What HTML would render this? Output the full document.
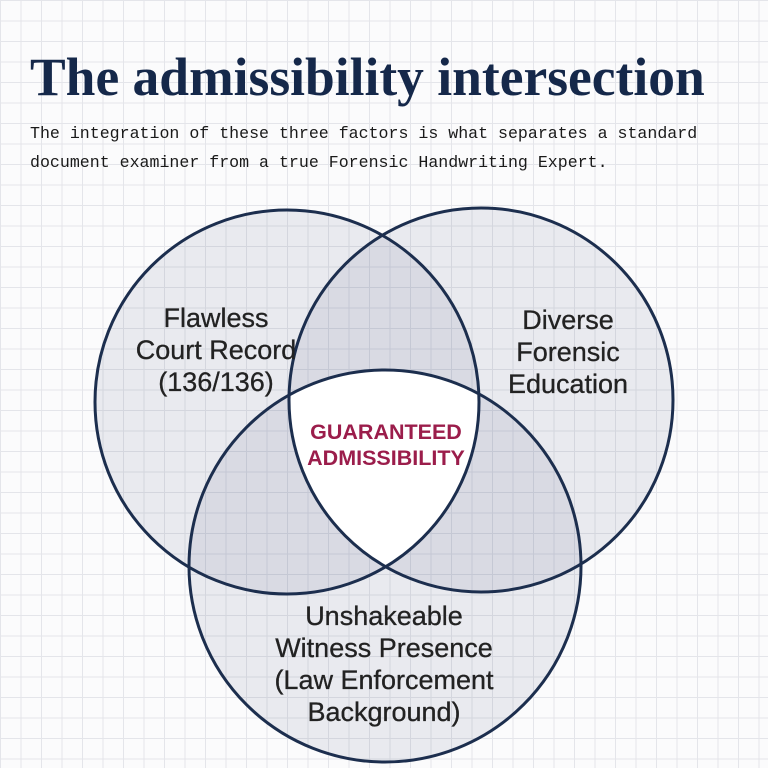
<!DOCTYPE html>
<html><head><meta charset="utf-8"><style>
html,body{margin:0;padding:0}
body{width:768px;height:768px;overflow:hidden;position:relative;background-color:#fbfbfc;
background-image:linear-gradient(#e4e5ea 1px,transparent 1px),linear-gradient(90deg,#e4e5ea 1px,transparent 1px);
background-size:20.5px 20.5px;background-position:0 0;font-family:"Liberation Sans",sans-serif}
h1{position:absolute;left:30px;top:46px;margin:0;font-family:"Liberation Serif",serif;font-weight:bold;font-size:53.5px;color:#15284a;letter-spacing:0px;white-space:nowrap}
p{position:absolute;left:30px;top:119px;margin:0;font-family:"Liberation Mono",monospace;font-size:16.6px;line-height:29px;color:#1a1a1a;white-space:nowrap}
svg{position:absolute;left:0;top:0}
</style></head><body>
<h1>The admissibility intersection</h1>
<p>The integration of these three factors is what separates a standard<br>document examiner from a true Forensic Handwriting Expert.</p>
<svg width="768" height="768" viewBox="0 0 768 768">
<defs>
<clipPath id="a"><circle cx="287" cy="402" r="192"/></clipPath>
<clipPath id="b"><circle cx="481" cy="400" r="192"/></clipPath>
</defs>
<g fill="rgba(60,70,110,0.09)">
<circle cx="287" cy="402" r="192"/>
<circle cx="481" cy="400" r="192"/>
<circle cx="385" cy="566" r="196"/>
</g>
<g clip-path="url(#a)"><g clip-path="url(#b)"><circle cx="385" cy="566" r="196" fill="#fff"/></g></g>
<g fill="none" stroke="#1c2e4e" stroke-width="3">
<circle cx="287" cy="402" r="192"/>
<circle cx="481" cy="400" r="192"/>
<circle cx="385" cy="566" r="196"/>
</g>
<g font-family="Liberation Sans, sans-serif" font-size="27" fill="#222" text-anchor="middle" stroke="#222" stroke-width="0.3">
<text x="216" y="327">Flawless</text>
<text x="216" y="359">Court Record</text>
<text x="216" y="391">(136/136)</text>
<text x="568" y="329">Diverse</text>
<text x="568" y="361">Forensic</text>
<text x="568" y="393">Education</text>
<text x="384" y="625">Unshakeable</text>
<text x="384" y="657">Witness Presence</text>
<text x="384" y="689">(Law Enforcement</text>
<text x="384" y="721">Background)</text>
</g>
<g font-family="Liberation Sans, sans-serif" font-size="21.5" font-weight="bold" fill="#9b1d4b" text-anchor="middle">
<text x="386" y="439">GUARANTEED</text>
<text x="386" y="465">ADMISSIBILITY</text>
</g>
</svg>
</body></html>
